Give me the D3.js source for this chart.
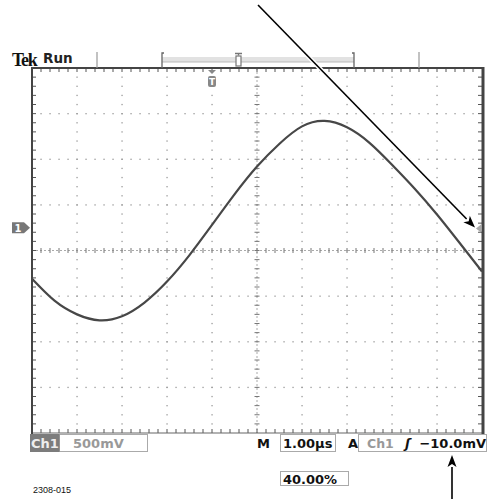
<!DOCTYPE html>
<html><head><meta charset="utf-8">
<script src="https://cdn.jsdelivr.net/npm/d3@7"></script>
<style>body{margin:0;background:#fff}svg{display:block}</style>
</head><body>
<svg id="c" width="487" height="499"></svg>
<script>
// ---- data (time in µs, CH1 in volts) ----
const timeUs  = [-4, -3.5, -3, -2.5, -2, -1.5, -1, -0.5, 0, 0.5, 1, 1.5, 2, 2.5, 3, 3.5, 4, 4.5, 5, 5.5, 6];
const ch1Volts = [-0.56, -0.80, -0.95, -1.015, -0.97, -0.82, -0.59, -0.30, 0.03, 0.365, 0.67, 0.92, 1.11, 1.17, 1.10, 0.93, 0.69, 0.43, 0.145, -0.165, -0.48];
const xGridUs = [-4, -3, -2, -1, 0, 1, 2, 3, 4, 5, 6];
const yGridV  = [-2.25, -1.75, -1.25, -0.75, -0.25, 0.25, 0.75, 1.25, 1.75];
const groundV = 0;
const triggerTimeUs = 0;
const triggerLevelV = -0.01;
const statusTitle = ["Tek", "Run"];
const bottomLabels = ["Ch1", "500mV", "M", "1.00µs", "A", "Ch1", "\u0283", "\u221210.0mV", "40.00%"];
const figureId = "2308-015";

const svg = d3.select("#c");
const x = d3.scaleLinear().domain([xGridUs[0], xGridUs[xGridUs.length-1]]).range([32, 482]);
const y = d3.scaleLinear().domain([yGridV[0], yGridV[yGridV.length-1]]).range([433, 68]);
const xMinor = d3.range(0, 51).map(i => xGridUs[0] + i * 0.2);
const yMinor = d3.range(0, 41).map(i => yGridV[0] + i * 0.1);
const xCenter = xGridUs[5], yCenter = yGridV[4];
const gridCol = "#9a9a9a";

// dotted graticule
const g = svg.append("g");
xGridUs.slice(1, -1).filter(v => v !== xCenter).forEach(v => {
  g.selectAll(null).data(yMinor.slice(1, -1)).enter().append("rect")
    .attr("x", x(v) - 0.6).attr("y", d => y(d) - 0.6).attr("width", 1.3).attr("height", 1.3).attr("fill", gridCol);
});
yGridV.slice(1, -1).filter(v => v !== yCenter).forEach(v => {
  g.selectAll(null).data(xMinor.slice(1, -1)).enter().append("rect")
    .attr("x", d => x(d) - 0.6).attr("y", y(v) - 0.6).attr("width", 1.3).attr("height", 1.3).attr("fill", gridCol);
});
// center lines with ticks
g.append("line").attr("x1", x(xCenter)).attr("x2", x(xCenter)).attr("y1", 68).attr("y2", 433)
  .attr("stroke", "#aaa").attr("stroke-width", 1).attr("stroke-dasharray", "2,2");
g.append("line").attr("y1", y(yCenter)).attr("y2", y(yCenter)).attr("x1", 32).attr("x2", 482)
  .attr("stroke", "#aaa").attr("stroke-width", 1).attr("stroke-dasharray", "2,2");
g.selectAll(null).data(yMinor.slice(1, -1)).enter().append("line")
  .attr("x1", x(xCenter) - 2.5).attr("x2", x(xCenter) + 2.5).attr("y1", d => y(d)).attr("y2", d => y(d))
  .attr("stroke", "#777").attr("stroke-width", 1);
g.selectAll(null).data(xMinor.slice(1, -1)).enter().append("line")
  .attr("y1", y(yCenter) - 2.5).attr("y2", y(yCenter) + 2.5).attr("x1", d => x(d)).attr("x2", d => x(d))
  .attr("stroke", "#777").attr("stroke-width", 1);

// border ticks
g.selectAll(null).data(xMinor.slice(1, -1)).enter().append("line")
  .attr("x1", d => x(d)).attr("x2", d => x(d)).attr("y1", 68).attr("y2", 72).attr("stroke", "#555");
g.selectAll(null).data(xMinor.slice(1, -1)).enter().append("line")
  .attr("x1", d => x(d)).attr("x2", d => x(d)).attr("y1", 433).attr("y2", 429).attr("stroke", "#555");
g.selectAll(null).data(yMinor.slice(1, -1)).enter().append("line")
  .attr("y1", d => y(d)).attr("y2", d => y(d)).attr("x1", 32).attr("x2", 36).attr("stroke", "#555");
g.selectAll(null).data(yMinor.slice(1, -1)).enter().append("line")
  .attr("y1", d => y(d)).attr("y2", d => y(d)).attr("x1", 482).attr("x2", 478).attr("stroke", "#555");
// borders
g.append("line").attr("x1", 31).attr("x2", 483).attr("y1", 68).attr("y2", 68).attr("stroke", "#444").attr("stroke-width", 2);
g.append("line").attr("x1", 31).attr("x2", 483).attr("y1", 433).attr("y2", 433).attr("stroke", "#666").attr("stroke-width", 1.2);
g.append("line").attr("x1", 32).attr("x2", 32).attr("y1", 67).attr("y2", 434).attr("stroke", "#444").attr("stroke-width", 2);
g.append("line").attr("x1", 483).attr("x2", 483).attr("y1", 67).attr("y2", 434).attr("stroke", "#444").attr("stroke-width", 3);

// waveform
const pts = timeUs.map((t, i) => ({t, v: ch1Volts[i]}));
svg.append("path").datum(pts)
  .attr("d", d3.line().x(d => x(d.t)).y(d => y(d.v)).curve(d3.curveNatural))
  .attr("fill", "none").attr("stroke", "#474747").attr("stroke-width", 2.2);

// ground marker (Ch1)
const gy = y(groundV);
svg.append("path").attr("d", `M12,${gy-5.5} h12 l6,5.5 l-6,5.5 h-12 z`).attr("fill", "#777");
svg.append("text").attr("x", 18).attr("y", gy + 4).attr("text-anchor", "middle")
  .attr("font-family", "DejaVu Sans").attr("font-weight", "bold").attr("font-size", 10).attr("fill", "#fff").text("1");
// trigger level marker
const ty = y(triggerLevelV);
svg.append("path").attr("d", `M${x(6)-6},${ty} l5,-4 v8 z`).attr("fill", "#aaa");
// trigger position marker
const tx = x(triggerTimeUs);
svg.append("path").attr("d", `M${tx-4},70 h8 l-4,4 z`).attr("fill", "#888");
svg.append("rect").attr("x", tx - 4).attr("y", 76).attr("width", 8).attr("height", 11).attr("rx", 2).attr("fill", "#888");
svg.append("text").attr("x", tx).attr("y", 85).attr("text-anchor", "middle")
  .attr("font-family", "DejaVu Sans").attr("font-weight", "bold").attr("font-size", 9).attr("fill", "#fff").text("T");

// top status line
svg.append("text").attr("x", 12).attr("y", 65.5).attr("font-family", "Liberation Serif").attr("font-weight", "bold")
  .attr("font-size", 18).attr("letter-spacing", -1.3).attr("fill", "#111").text(statusTitle[0]);
svg.append("text").attr("x", 43).attr("y", 63).attr("font-family", "DejaVu Sans").attr("font-weight", "bold")
  .attr("font-size", 13.5).attr("fill", "#222").text(statusTitle[1]);
svg.append("line").attr("x1", 97).attr("x2", 97).attr("y1", 52).attr("y2", 68).attr("stroke", "#999").attr("stroke-width", 1.2);
svg.append("line").attr("x1", 419).attr("x2", 419).attr("y1", 52).attr("y2", 68).attr("stroke", "#999").attr("stroke-width", 1.2);
svg.append("rect").attr("x", 162).attr("y", 57).attr("width", 192).attr("height", 5).attr("fill", "#e2e2e2");
svg.append("line").attr("x1", 162).attr("x2", 354).attr("y1", 62).attr("y2", 62).attr("stroke", "#bbb").attr("stroke-width", 1);
svg.append("path").attr("d", "M164,53 h-2 v15").attr("fill", "none").attr("stroke", "#666").attr("stroke-width", 1.3);
svg.append("path").attr("d", "M352,53 h2 v15").attr("fill", "none").attr("stroke", "#666").attr("stroke-width", 1.3);
svg.append("path").attr("d", "M235,53.5 h7 M238.5,53.5 v2").attr("stroke", "#777").attr("stroke-width", 1.3);
svg.append("rect").attr("x", 236).attr("y", 56).attr("width", 5).attr("height", 10).attr("fill", "#fff").attr("stroke", "#777").attr("stroke-width", 1.2);

// bottom readouts
const F = "DejaVu Sans";
function txt(xp, yp, s, col, size, anchor) {
  return svg.append("text").attr("x", xp).attr("y", yp).attr("font-family", F).attr("font-weight", "bold")
    .attr("font-size", size || 13).attr("fill", col).attr("text-anchor", anchor || "start").text(s);
}
svg.append("rect").attr("x", 59.5).attr("y", 434.5).attr("width", 88).attr("height", 17).attr("fill", "#fff").attr("stroke", "#aaa");
svg.append("rect").attr("x", 30).attr("y", 434).attr("width", 29.5).attr("height", 18).attr("fill", "#7c7c7c");
txt(31, 448, bottomLabels[0], "#eee");
txt(73, 448, bottomLabels[1], "#999");
txt(257, 448, bottomLabels[2], "#111");
svg.append("rect").attr("x", 280.5).attr("y", 434.5).attr("width", 55).attr("height", 17).attr("fill", "none").attr("stroke", "#aaa");
txt(283, 448, bottomLabels[3], "#111");
txt(348, 448, bottomLabels[4], "#111");
svg.append("rect").attr("x", 358.5).attr("y", 434.5).attr("width", 128).attr("height", 17).attr("fill", "none").attr("stroke", "#aaa");
txt(367, 448, bottomLabels[5], "#999", 12.5);
txt(405, 448, bottomLabels[6], "#111", 13).attr("font-style", "italic");
txt(486, 448, bottomLabels[7], "#111", 13, "end");
svg.append("rect").attr("x", 280.5).attr("y", 471.5).attr("width", 68).attr("height", 14).attr("fill", "none").attr("stroke", "#aaa");
txt(283, 483.5, bottomLabels[8], "#111", 13);
svg.append("text").attr("x", 33).attr("y", 492.5).attr("font-family", "Liberation Sans").attr("font-size", 8.5)
  .attr("textLength", 38).attr("lengthAdjust", "spacingAndGlyphs").attr("fill", "#111").text(figureId);

// annotation arrows
function arrow(x1, y1, x2, y2) {
  const a = Math.atan2(y2 - y1, x2 - x1), L = 12, W = 4.5;
  const bx = x2 - L * Math.cos(a), by = y2 - L * Math.sin(a);
  svg.append("line").attr("x1", x1).attr("y1", y1).attr("x2", bx).attr("y2", by)
    .attr("stroke", "#fff").attr("stroke-width", 4.5);
  svg.append("line").attr("x1", x1).attr("y1", y1).attr("x2", bx).attr("y2", by)
    .attr("stroke", "#000").attr("stroke-width", 1.6);
  const px = -Math.sin(a) * W, py = Math.cos(a) * W;
  svg.append("path").attr("d", `M${x2},${y2} L${bx+px},${by+py} L${bx + 3*Math.cos(a)},${by + 3*Math.sin(a)} L${bx-px},${by-py} Z`).attr("fill", "#000");
}
arrow(258, 5, x(6) - 7, ty - 1);
arrow(452, 499, 452, 455);
</script>
</body></html>
